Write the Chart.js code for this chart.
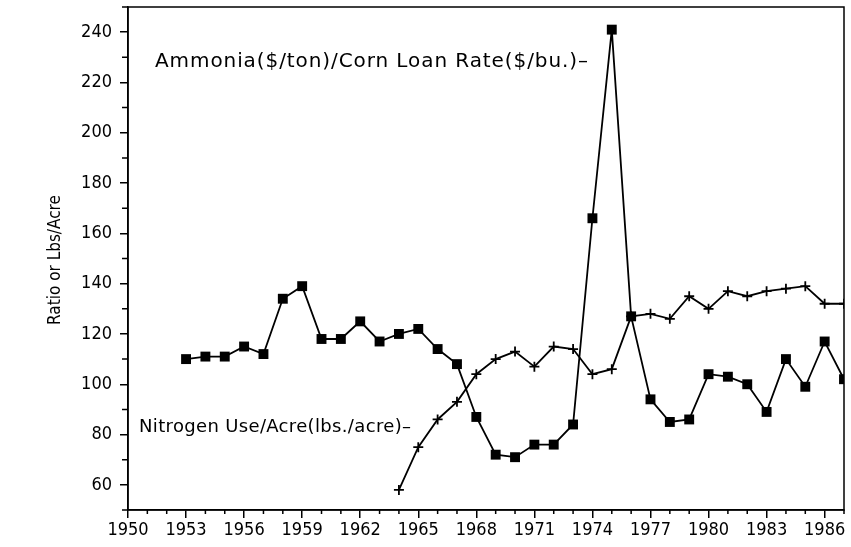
<!DOCTYPE html>
<html>
<head>
<meta charset="utf-8">
<script src="https://cdn.jsdelivr.net/npm/chart.js@4/dist/chart.umd.min.js"></script>
<style>
  html,body{margin:0;padding:0;background:#fff;}
  #wrap{width:851px;height:547px;}
</style>
</head>
<body>
<div id="wrap"><canvas id="c" width="851" height="547"></canvas></div>
<script>
// ammonia price / corn loan rate ratio, 1953-1987
const ratioYears = [1953,1954,1955,1956,1957,1958,1959,1960,1961,1962,1963,1964,1965,1966,1967,1968,1969,1970,
  1971,1972,1973,1974,1975,1976,1977,1978,1979,1980,1981,1982,1983,1984,1985,1986,1987];
const ratioValues = [110,111,111,115,112,134,139,118,118,125,117,120,122,114,108,87,72,71,
  76,76,84,166,241,127,94,85,86,104,103,100,89,110,99,117,102];

// nitrogen use per acre, 1964-1987
const nitroYears = [1964,1965,1966,1967,1968,1969,1970,1971,1972,1973,1974,1975,1976,1977,1978,1979,1980,
  1981,1982,1983,1984,1985,1986,1987];
const nitroValues = [58,75,86,93,104,110,113,107,115,114,104,106,127,128,126,135,130,
  137,135,137,138,139,132,132];

const xTicks = [1950,1953,1956,1959,1962,1965,1968,1971,1974,1977,1980,1983,1986];
const yTicks = [60,80,100,120,140,160,180,200,220,240];

const FONT = "'Liberation Sans Narrow','DejaVu Sans Condensed','Liberation Sans',sans-serif";
const NOTE_FONT = "'DejaVu Sans',sans-serif";

// draws text stretched with letter spacing so it ends at x1
function spreadText(ctx, txt, x0, x1, y){
  ctx.letterSpacing = '0px';
  const w = ctx.measureText(txt).width;
  const sp = Math.max(0, (x1 - x0 - w) / (txt.length - 1));
  ctx.letterSpacing = sp + 'px';
  ctx.fillText(txt, x0, y);
  ctx.letterSpacing = '0px';
}

const extras = {
  id:'extras',
  afterDraw(chart){
    const ctx = chart.ctx, a = chart.chartArea;
    const xs = chart.scales.x, ys = chart.scales.y;
    ctx.save();
    ctx.strokeStyle = '#000';
    ctx.lineWidth = 1.5;
    ctx.strokeRect(a.left, a.top, a.right-a.left, a.bottom-a.top);
    // minor ticks
    ctx.beginPath();
    for(let yr=1951; yr<=1987; yr++){
      if((yr-1950)%3===0) continue;
      const px = xs.getPixelForValue(yr);
      ctx.moveTo(px, a.bottom); ctx.lineTo(px, a.bottom+4);
    }
    for(let v=50; v<=250; v+=20){
      const py = ys.getPixelForValue(v);
      ctx.moveTo(a.left, py); ctx.lineTo(a.left-6, py);
    }
    ctx.stroke();
    // labels in the plot
    ctx.fillStyle = '#000';
    ctx.textBaseline = 'middle';
    ctx.font = '20px ' + NOTE_FONT;
    spreadText(ctx, 'Ammonia($/ton)/Corn Loan Rate($/bu.)\u2013', 155, 588, 62);
    ctx.font = '18px ' + NOTE_FONT;
    spreadText(ctx, 'Nitrogen Use/Acre(lbs./acre)\u2013', 139, 411, 427);
    // y title
    ctx.translate(56, 260);
    ctx.rotate(-Math.PI/2);
    ctx.textAlign = 'center';
    ctx.font = '17px ' + FONT;
    ctx.fillText('Ratio or Lbs/Acre', 0, 0);
    ctx.restore();
  }
};

new Chart(document.getElementById('c'), {
  type:'line',
  data:{
    datasets:[
      {label:'Ammonia/Corn Loan Rate', data:ratioYears.map((y,i)=>({x:y,y:ratioValues[i]})),
        borderColor:'#000', backgroundColor:'#000', borderWidth:1.8, pointStyle:'rect', pointRadius:7, pointBorderWidth:0, tension:0},
      {label:'Nitrogen Use/Acre', data:nitroYears.map((y,i)=>({x:y,y:nitroValues[i]})),
        borderColor:'#000', backgroundColor:'#000', borderWidth:1.8, pointStyle:'cross', pointRadius:5, pointBorderWidth:1.8, tension:0}
    ]
  },
  options:{
    responsive:false,
    animation:false,
    layout:{padding:{top:7, right:7, left:0, bottom:0}},
    plugins:{legend:{display:false}, tooltip:{enabled:false}},
    scales:{
      x:{type:'linear', min:1950, max:1987,
        afterBuildTicks:s=>{s.ticks = xTicks.map(v=>({value:v}));},
        afterFit:s=>{s.height = 37; s.paddingLeft = 0; s.paddingRight = 0;},
        grid:{drawOnChartArea:false, color:'#000', tickLength:8, lineWidth:1.5},
        border:{display:true, color:'#000', width:1.5},
        ticks:{color:'#000', autoSkip:false, maxRotation:0, padding:2, font:{family:FONT, size:18}, callback:v=>String(v)}
      },
      y:{min:50, max:250,
        afterBuildTicks:s=>{s.ticks = yTicks.map(v=>({value:v}));},
        afterFit:s=>{s.width = 128; s.paddingTop = 0; s.paddingBottom = 0;},
        grid:{drawOnChartArea:false, color:'#000', tickLength:8, lineWidth:1.5},
        border:{display:true, color:'#000', width:1.5},
        ticks:{color:'#000', padding:8, font:{family:FONT, size:18}}
      }
    }
  },
  plugins:[extras]
});
</script>
</body>
</html>
